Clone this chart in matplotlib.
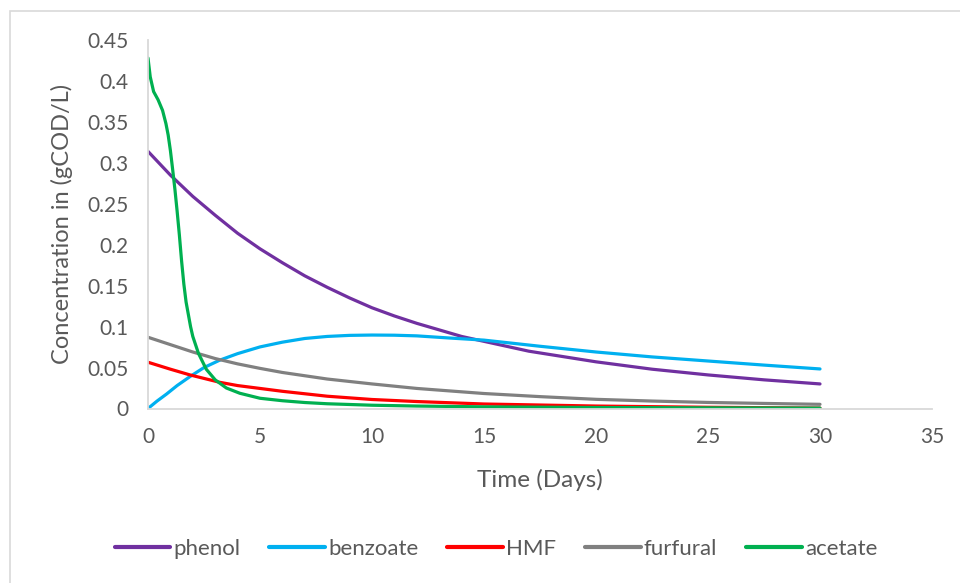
import matplotlib
matplotlib.use("Agg")
import matplotlib.pyplot as plt
from matplotlib.patches import Rectangle
from matplotlib.ticker import FuncFormatter, MultipleLocator

plt.rcParams["font.family"] = ["Lato", "DejaVu Sans"]

# values
phenol_t = [0, 1, 2, 3, 4, 5, 6, 7, 8, 9, 10, 11, 12, 13, 14, 15, 17, 20, 22.5, 25, 27.5, 30]
phenol = [0.314, 0.285, 0.259, 0.236, 0.214, 0.195, 0.178, 0.162, 0.148, 0.135, 0.123,
          0.113, 0.104, 0.096, 0.088, 0.082, 0.070, 0.057, 0.048, 0.041, 0.035, 0.030]

benzoate_t = [0, 0.4, 0.83, 1.3, 1.875, 2.5, 3.2, 4, 5, 6, 7, 8, 9, 10, 11, 12, 13.5,
              15, 17.5, 20, 22.5, 25, 27.5, 30]
benzoate = [0, 0.009, 0.0177, 0.028, 0.039, 0.050, 0.059, 0.067, 0.0752, 0.081, 0.0855,
            0.088, 0.0893, 0.0897, 0.0895, 0.0887, 0.086, 0.0835, 0.076, 0.069, 0.063,
            0.058, 0.053, 0.0483]

hmf_t = [0, 1, 1.875, 3.2, 4, 5, 6, 6.8, 8, 10, 12, 15, 20, 25, 30]
hmf = [0.0565, 0.048, 0.041, 0.032, 0.028, 0.0245, 0.021, 0.0186, 0.015, 0.011, 0.0085,
       0.0055, 0.003, 0.0015, 0.0005]

furfural_t = [0, 1, 2, 3, 4, 5, 6, 7, 8, 9, 10, 12, 15, 17.5, 20, 22.5, 25, 27.5, 30]
furfural = [0.087, 0.078, 0.069, 0.061, 0.0545, 0.049, 0.044, 0.040, 0.036, 0.033, 0.030,
            0.0245, 0.0183, 0.0145, 0.0112, 0.0091, 0.0074, 0.0062, 0.0051]

acetate_t = [0, 0.1, 0.25, 0.45, 0.65, 0.8, 0.9, 1.0, 1.1, 1.2, 1.3, 1.4, 1.5, 1.6, 1.7,
             1.8, 1.9, 2.0, 2.25, 2.6, 3.0, 3.5, 4.1, 5, 6, 7, 8, 10, 12, 15, 20, 25, 30]
acetate = [0.428, 0.405, 0.387, 0.377, 0.364, 0.348, 0.334, 0.315, 0.292, 0.268, 0.241,
           0.212, 0.180, 0.152, 0.130, 0.115, 0.100, 0.088, 0.0675, 0.048, 0.035, 0.025,
           0.0186, 0.0125, 0.0095, 0.0073, 0.0058, 0.004, 0.003, 0.002, 0.0012, 0.0008,
           0.0005]

series = [
    ("phenol", phenol_t, phenol, "#7030A0"),
    ("benzoate", benzoate_t, benzoate, "#00B0F0"),
    ("HMF", hmf_t, hmf, "#FF0000"),
    ("furfural", furfural_t, furfural, "#808080"),
    ("acetate", acetate_t, acetate, "#00B050"),
]

text_col = "#595959"
axis_col = "#D9D9D9"

fig = plt.figure(figsize=(9.6, 5.83), dpi=100)
ax = fig.add_axes([148 / 960, 1 - 408.5 / 583, (932 - 148) / 960, (408.5 - 40) / 583])

for name, t, v, c in series:
    ax.plot(t, v, color=c, linewidth=2.3, label=name, solid_capstyle="round",
            solid_joinstyle="round")

ax.set_xlim(0, 35)
ax.set_ylim(0, 0.45)
ax.xaxis.set_major_locator(MultipleLocator(5))
ax.yaxis.set_major_locator(MultipleLocator(0.05))
ax.yaxis.set_major_formatter(FuncFormatter(lambda v, p: "%g" % round(v, 2)))

for s in ["top", "right"]:
    ax.spines[s].set_visible(False)
for s in ["left", "bottom"]:
    ax.spines[s].set_color(axis_col)
    ax.spines[s].set_linewidth(1.3)

ax.tick_params(axis="both", length=0, labelsize=15, labelcolor=text_col)
ax.tick_params(axis="y", pad=14)
ax.tick_params(axis="x", pad=13)

ax.set_xlabel("Time (Days)", fontsize=17.5, color=text_col, labelpad=16)
ax.set_ylabel("Concentration in (gCOD/L)", fontsize=17, color=text_col, labelpad=10)

leg = fig.legend(loc="center", bbox_to_anchor=(496 / 960, 1 - 549 / 583), ncol=5,
                 frameon=False, fontsize=16, handlelength=2.5, handletextpad=0.15,
                 columnspacing=1.3)
for txt in leg.get_texts():
    txt.set_color(text_col)
for ln in leg.get_lines():
    ln.set_linewidth(3)

# outer chart frame (top and left edges visible)
fig.patches.append(Rectangle((10 / 960, -0.2), 1.2, 0.2 + 1 - 11 / 583,
                             transform=fig.transFigure, fill=False,
                             edgecolor=axis_col, linewidth=1.2))

fig.savefig("out.png", dpi=100)
